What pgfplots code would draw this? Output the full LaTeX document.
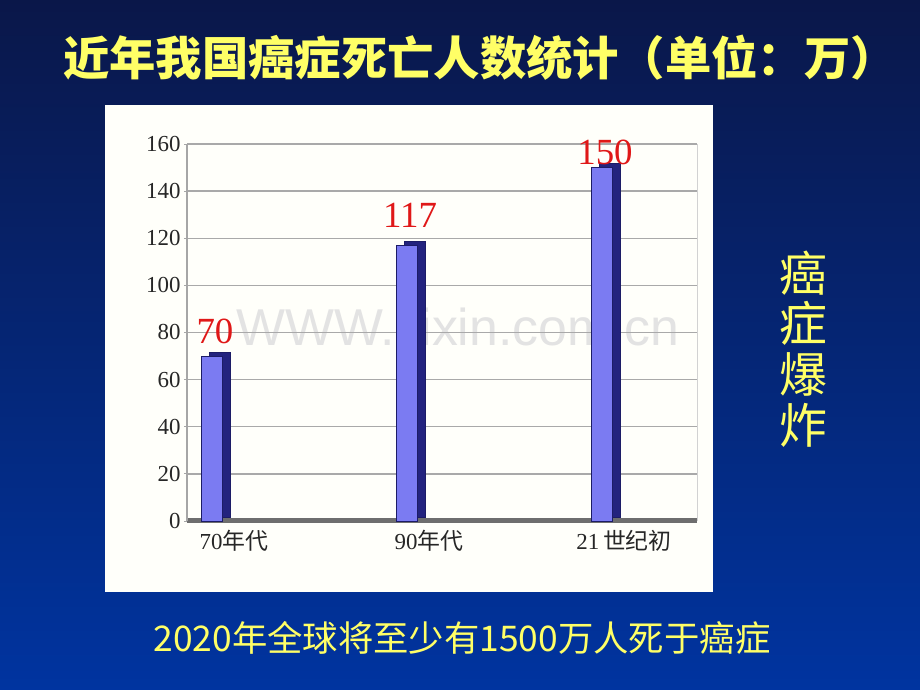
\documentclass[border=0pt]{standalone}
\usepackage{fontspec}
\setmainfont{Liberation Serif}
\newfontfamily\cjk{Noto Sans CJK SC}
\newfontfamily\wm{Liberation Sans}
\usepackage{pgfplots}
\pgfplotsset{compat=1.18}
\usepackage{pgfplotstable}
\definecolor{bgtop}{HTML}{0A1749}
\definecolor{bgbot}{HTML}{0034A0}
\definecolor{ylw}{HTML}{FFFF66}
\definecolor{barfront}{HTML}{7B7BF2}
\definecolor{barside}{HTML}{23237E}
\definecolor{barline}{HTML}{1C1C66}
\definecolor{lblred}{HTML}{E01818}
\definecolor{gridgray}{HTML}{A9A9A9}
\definecolor{floorgray}{HTML}{6E6E6E}

% deaths, 10k; off = gap (bp) between bar top and label baseline
\pgfplotstableread{
x y off lab
0 70 13 70
1 117 18 117
2 150 3 150
}\deaths

\begin{document}
\begin{tikzpicture}[x=1bp,y=1bp]
\shade[top color=bgtop, bottom color=bgbot] (0,0) rectangle (920,690);
\fill[white!98!yellow] (105,98) rectangle (713,585);

\node[text=ylw, font=\cjk\bfseries\fontsize{46.5}{46.5}\selectfont] at (480,632)
  {近年我国癌症死亡人数统计（单位：万）};
\node[text=ylw, align=center, font=\cjk\fontsize{48}{51}\selectfont] at (803,341)
  {癌\\症\\爆\\炸};
\node[text=ylw, font=\cjk\fontsize{35.5}{35.5}\selectfont] at (462,52)
  {2020年全球将至少有1500万人死于癌症};

\node[text=black!11, font=\wm\fontsize{52}{52}\selectfont] at (458,363) {WWW.zixin.com.cn};

\begin{axis}[
  at={(187bp,169bp)}, anchor=south west,
  scale only axis, width=510bp, height=377bp,
  xmin=-0.128, xmax=2.487, ymin=0, ymax=160,
  axis x line*=bottom, axis y line*=left,
  x axis line style={draw=floorgray, line width=5bp},
  y axis line style={draw=gray!70, line width=1.2bp},
  ytick={0,20,...,160},
  ymajorgrids,
  grid style={draw=gridgray, line width=1.3bp},
  ytick style={draw=gray!70, line width=0.8bp},
  major tick length=3bp, tick align=outside,
  xtick={0,1,2},
  xticklabels={70{\cjk 年代}, 90{\cjk 年代}, 21\,{\cjk 世纪初}},
  xtick style={draw=none},
  x tick label style={xshift=22bp, yshift=-3bp, text=black!85,
    font=\fontsize{23}{23}\selectfont},
  y tick label style={text=black!85, font=\fontsize{23}{23}\selectfont},
  /pgf/number format/assume math mode=true,
  clip=false,
]
\draw[gray!35, line width=1bp] (rel axis cs:1,0) -- (rel axis cs:1,1);
% dark side of each bar
\addplot[ybar, bar width=21bp, bar shift=8bp, yshift=4bp,
  fill=barside, draw=barline, line width=0.6bp] table[x=x, y=y] {\deaths};
% front face with value labels
\addplot[ybar, bar width=21bp, bar shift=0bp,
  fill=barfront, draw=barline, line width=0.6bp,
  point meta=explicit symbolic,
  visualization depends on={\thisrow{off} \as \off},
  nodes near coords,
  every node near coord/.append style={anchor=base, yshift=\off bp, xshift=3bp,
    text=lblred, font=\fontsize{37}{37}\selectfont}]
  table[x=x, y=y, meta=lab] {\deaths};
\end{axis}

\pgfresetboundingbox
\useasboundingbox (0,0) rectangle (920,690);
\end{tikzpicture}
\end{document}
